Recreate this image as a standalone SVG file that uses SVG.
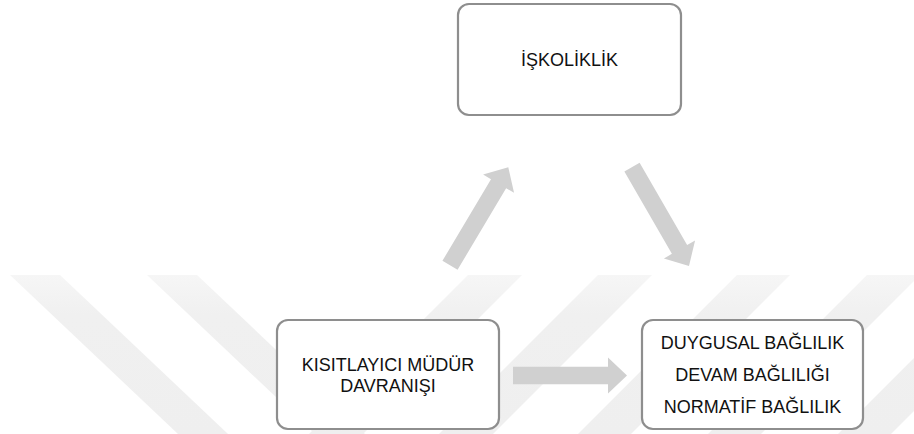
<svg xmlns="http://www.w3.org/2000/svg" width="914" height="434" viewBox="0 0 914 434">
  <defs>
    <style>
      .band { fill: url(#bandGrad); }
      .box { fill: #ffffff; stroke: #8e8e8e; stroke-width: 2.2; }
      .arrow { fill: #d0d0d0; }
      .lbl { font-family: "Liberation Sans", Arial, sans-serif; font-size: 18px; fill: #111111; text-anchor: middle; }
    </style>
    <linearGradient id="bandGrad" gradientUnits="userSpaceOnUse" x1="0" y1="275" x2="0" y2="434">
      <stop offset="0" stop-color="#f6f6f6"/>
      <stop offset="0.25" stop-color="#f0f0f0"/>
      <stop offset="1" stop-color="#efefef"/>
    </linearGradient>
    <path id="arr" d="M0,-8.8 H95 V-18 L114,0 L95,18 V8.8 H0 Z"/>
  </defs>
  <rect x="0" y="0" width="914" height="434" fill="#ffffff"/>
  <g id="watermark">
    <polygon class="band" points="10,275 60,275 228,434 178,434"/>
    <polygon class="band" points="147,275 197,275 365,434 315,434"/>
    <polygon class="band" points="468,275 522,275 363,434 309,434"/>
    <polygon class="band" points="598,275 652,275 493,434 439,434"/>
    <polygon class="band" points="737,275 790,275 631,434 578,434"/>
    <polygon class="band" points="867,275 920,275 761,434 708,434"/>
    <polygon class="band" points="997,275 1050,275 891,434 838,434"/>
  </g>
  <g id="connectors">
    <use href="#arr" class="arrow" transform="translate(450,265.3) rotate(-59.25)"/>
    <use href="#arr" class="arrow" transform="translate(632,167.2) rotate(60)"/>
    <use href="#arr" class="arrow" transform="translate(513,375.5)"/>
  </g>
  <g id="node-iskoliklik">
    <rect class="box" x="458" y="4" width="223" height="111" rx="11"/>
    <text class="lbl" x="569.5" y="66">İŞKOLİKLİK</text>
  </g>
  <g id="node-kisitlayici">
    <rect class="box" x="277" y="320" width="222" height="109" rx="11"/>
    <text class="lbl" x="388" y="371">KISITLAYICI MÜDÜR</text>
    <text class="lbl" x="388" y="392">DAVRANIŞI</text>
  </g>
  <g id="node-baglilik">
    <rect class="box" x="642" y="320" width="221" height="109" rx="11"/>
    <text class="lbl" x="752.5" y="349">DUYGUSAL BAĞLILIK</text>
    <text class="lbl" x="752.5" y="381">DEVAM BAĞLILIĞI</text>
    <text class="lbl" x="752.5" y="413">NORMATİF BAĞLILIK</text>
  </g>
</svg>
